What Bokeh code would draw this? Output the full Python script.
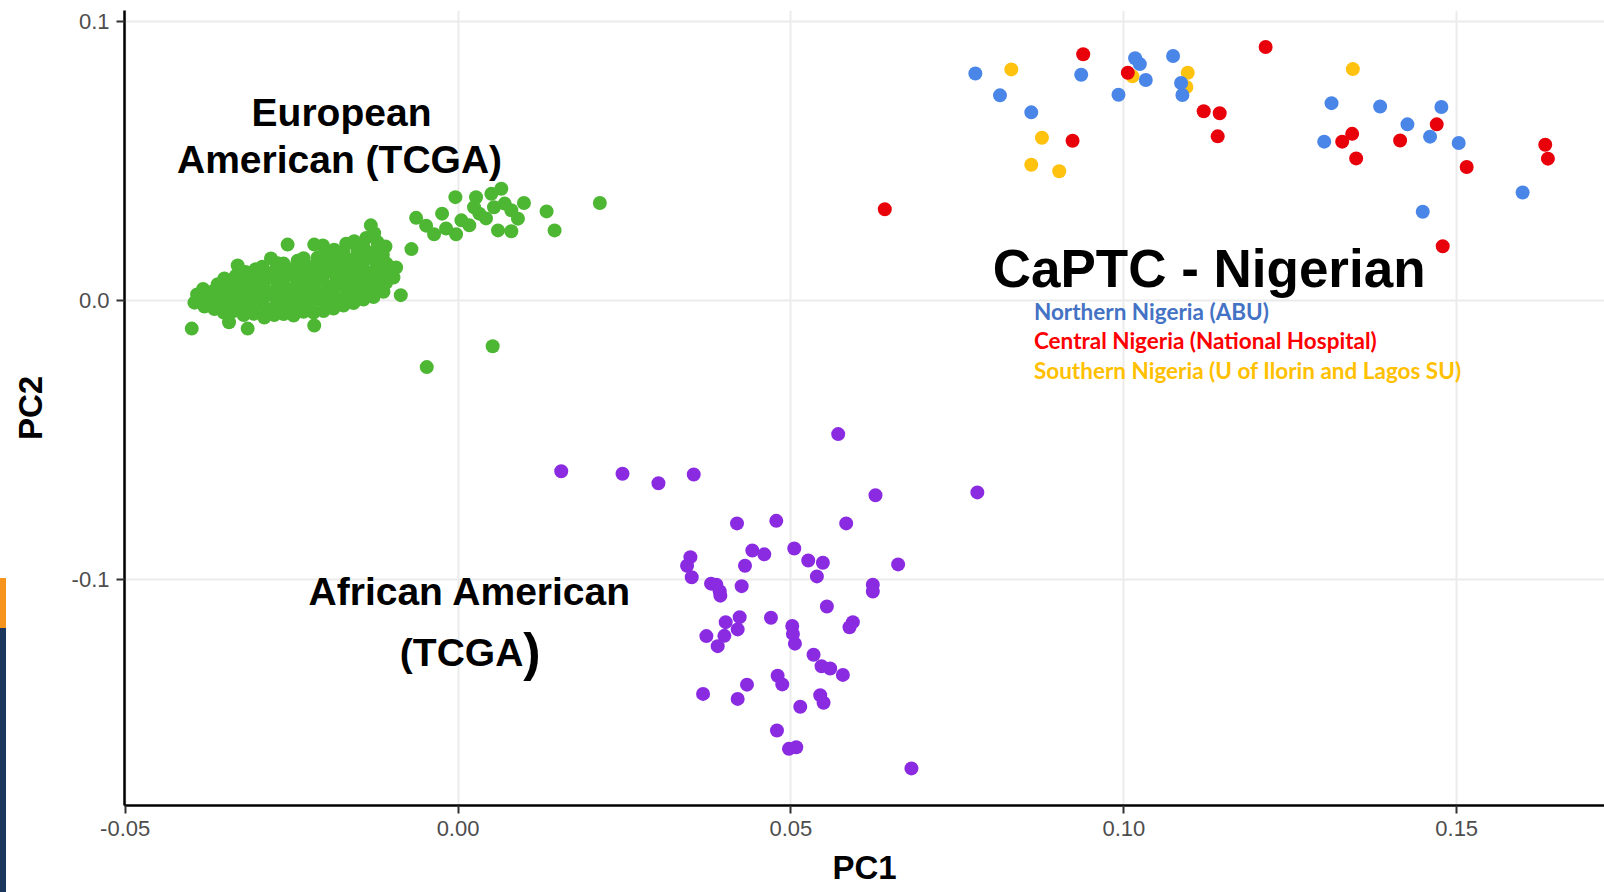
from bokeh.plotting import figure
from bokeh.models import Label, FixedTicker, Div, Range1d
from bokeh.layouts import row
from bokeh.embed import file_html
from bokeh.resources import INLINE

# ---------------- data ----------------
x_ticks = [-0.05, 0.0, 0.05, 0.10, 0.15]
x_tick_labels = ["-0.05", "0.00", "0.05", "0.10", "0.15"]
y_ticks = [-0.1, 0.0, 0.1]
y_tick_labels = ["-0.1", "0.0", "0.1"]

# European American (TCGA) - dense main body + sparse points
eur_x = [-0.0396, -0.0392, -0.0381, -0.0378, -0.0383, -0.0366, -0.0362, -0.0368, -0.0361,
         -0.0352, -0.0348, -0.0353, -0.0347, -0.0351, -0.0337, -0.0332, -0.0336, -0.0331, -0.0334,
         -0.0322, -0.0318, -0.0321, -0.0317, -0.0323, -0.0319, -0.0307, -0.0303, -0.0306, -0.0302,
         -0.0308, -0.0304, -0.0291, -0.0288, -0.0293, -0.0287, -0.0292, -0.0289, -0.0294,
         -0.0276, -0.0273, -0.0277, -0.0272, -0.0278, -0.0274, -0.0271, -0.0262, -0.0258, -0.0261,
         -0.0257, -0.0263, -0.0259, -0.0262, -0.0247, -0.0243, -0.0246, -0.0242, -0.0248, -0.0244,
         -0.0241, -0.0232, -0.0228, -0.0231, -0.0227, -0.0233, -0.0229, -0.0232, -0.0217, -0.0213,
         -0.0216, -0.0212, -0.0218, -0.0214, -0.0211, -0.0202, -0.0198, -0.0201, -0.0197, -0.0203,
         -0.0199, -0.0202, -0.0198, -0.0187, -0.0183, -0.0186, -0.0182, -0.0188, -0.0184, -0.0181,
         -0.0186, -0.0172, -0.0168, -0.0171, -0.0167, -0.0173, -0.0169, -0.0172, -0.0168, -0.0157,
         -0.0153, -0.0156, -0.0152, -0.0158, -0.0154, -0.0151, -0.0156, -0.0142, -0.0138, -0.0141,
         -0.0137, -0.0143, -0.0139, -0.0142, -0.0138, -0.0127, -0.0123, -0.0126, -0.0122, -0.0128,
         -0.0124, -0.0121, -0.0126, -0.0112, -0.0108, -0.0111, -0.0107, -0.0113, -0.0109, -0.0097,
         -0.0093, -0.0131, -0.0331, -0.0281,
         -0.0400, -0.0316, -0.0344, -0.0216, -0.0256, -0.0216, -0.0203, -0.0086, -0.0070,
         -0.0063, -0.0048, -0.0036, -0.0024, -0.0004, 0.0005, -0.0003, 0.0027, 0.0032, 0.0050,
         0.0065, 0.0070, 0.0080, 0.0099, 0.0090, 0.0060, 0.0080, 0.0017, 0.0024, 0.0054,
         -0.0018, 0.0042, 0.0213, 0.0133, 0.0145, 0.0052, -0.0047]
eur_y = [-0.0008, 0.0021, -0.0022, 0.0009, 0.0041, -0.0031, 0.0002, 0.0033, 0.0058,
         -0.0043, -0.0012, 0.0019, 0.0051, 0.0079, -0.0038, -0.0009, 0.0023, 0.0054, 0.0088,
         -0.0052, -0.0021, 0.0011, 0.0042, 0.0071, 0.0102, -0.0048, -0.0017, 0.0014, 0.0049,
         0.0081, 0.0112, -0.0061, -0.0029, 0.0003, 0.0032, 0.0063, 0.0094, 0.0121,
         -0.0052, -0.0018, 0.0017, 0.0049, 0.0082, 0.0111, 0.0133, -0.0049, -0.0021, 0.0012,
         0.0043, 0.0072, 0.0103, 0.0132, -0.0054, -0.0012, 0.0021, 0.0053, 0.0088, 0.0119,
         0.0142, -0.0041, -0.0008, 0.0027, 0.0061, 0.0092, 0.0121, 0.0151, -0.0043, 0.0001,
         0.0033, 0.0068, 0.0099, 0.0128, 0.0153, -0.0038, -0.0007, 0.0022, 0.0052, 0.0083,
         0.0112, 0.0141, 0.0163, -0.0029, 0.0008, 0.0041, 0.0072, 0.0101, 0.0132, 0.0161,
         0.0182, -0.0018, 0.0013, 0.0049, 0.0081, 0.0112, 0.0141, 0.0172, 0.0203, -0.0009,
         0.0022, 0.0053, 0.0091, 0.0121, 0.0152, 0.0181, 0.0212, 0.0003, 0.0038, 0.0072,
         0.0101, 0.0132, 0.0163, 0.0192, 0.0224, 0.0012, 0.0048, 0.0081, 0.0118, 0.0149,
         0.0178, 0.0209, 0.0241, 0.0031, 0.0063, 0.0098, 0.0131, 0.0162, 0.0193, 0.0082,
         0.0118, 0.0269, 0.0125, 0.0150,
         -0.0101, -0.0101, -0.0078, -0.0090, 0.0200, 0.0200, 0.0197, 0.0019, 0.0184,
         0.0296, 0.0268, 0.0237, 0.0311, 0.0370, 0.0287, 0.0237, 0.0370, 0.0311, 0.0382,
         0.0400, 0.0347, 0.0323, 0.0349, 0.0293, 0.0251, 0.0248, 0.0269, 0.0334, 0.0334,
         0.0258, 0.0294, 0.0349, 0.0319, 0.0251, -0.0164, -0.0239]

# African American (TCGA)
afr_x = [0.0155, 0.0247, 0.0301, 0.0354, 0.0571, 0.0780, 0.0627, 0.0419, 0.0478, 0.0583,
         0.0505, 0.0442, 0.0460, 0.0526, 0.0548, 0.0661, 0.0349, 0.0344, 0.0351, 0.0431,
         0.0539, 0.0380, 0.0388, 0.0393, 0.0394, 0.0426, 0.0623, 0.0623, 0.0554, 0.0423,
         0.0402, 0.0420, 0.0470, 0.0593, 0.0588, 0.0502, 0.0503, 0.0506, 0.0373, 0.0400,
         0.0390, 0.0534, 0.0546, 0.0559, 0.0578, 0.0480, 0.0487, 0.0434, 0.0368, 0.0420,
         0.0544, 0.0549, 0.0514, 0.0479, 0.0497, 0.0508, 0.0681]
afr_y = [-0.0612, -0.0621, -0.0655, -0.0624, -0.0479, -0.0688, -0.0698, -0.0799, -0.0790, -0.0799,
         -0.0889, -0.0896, -0.0910, -0.0932, -0.0940, -0.0946, -0.0920, -0.0951, -0.0992, -0.0951,
         -0.0989, -0.1015, -0.1019, -0.1042, -0.1058, -0.1024, -0.1019, -0.1043, -0.1097, -0.1135,
         -0.1153, -0.1179, -0.1137, -0.1153, -0.1171, -0.1167, -0.1195, -0.1230, -0.1203, -0.1202,
         -0.1239, -0.1270, -0.1311, -0.1319, -0.1342, -0.1345, -0.1376, -0.1377, -0.1410, -0.1428,
         -0.1415, -0.1442, -0.1456, -0.1541, -0.1607, -0.1601, -0.1677]

# CaPTC - Nigerian: Northern (ABU)
north_x = [0.0777, 0.0814, 0.0861, 0.0936, 0.0992, 0.1017, 0.1024, 0.1033, 0.1074, 0.1086,
           0.1088, 0.1312, 0.1385, 0.1477, 0.1426, 0.1301, 0.1460, 0.1503, 0.1599, 0.1449]
north_y = [0.0813, 0.0735, 0.0674, 0.0809, 0.0737, 0.0868, 0.0847, 0.0790, 0.0876, 0.0779,
           0.0736, 0.0707, 0.0695, 0.0693, 0.0631, 0.0569, 0.0587, 0.0564, 0.0387, 0.0318]

# Central (National Hospital)
central_x = [0.0939, 0.0923, 0.0641, 0.1006, 0.1120, 0.1144, 0.1141, 0.1213, 0.1470, 0.1328,
             0.1343, 0.1415, 0.1349, 0.1515, 0.1633, 0.1637, 0.1479]
central_y = [0.0882, 0.0572, 0.0327, 0.0816, 0.0678, 0.0671, 0.0588, 0.0908, 0.0631, 0.0569,
             0.0597, 0.0573, 0.0509, 0.0478, 0.0558, 0.0508, 0.0194]

# Southern (U of Ilorin and Lagos SU)
south_x = [0.0831, 0.0877, 0.0861, 0.0903, 0.1013, 0.1096, 0.1094, 0.1344]
south_y = [0.0828, 0.0583, 0.0486, 0.0463, 0.0803, 0.0816, 0.0765, 0.0829]

# ---------------- figure ----------------
p = figure(width=1598, height=892,
           x_range=Range1d(-0.0501, 0.1722), y_range=Range1d(-0.1810, 0.1039),
           output_backend="svg", toolbar_location=None,
           min_border_left=118, min_border_right=0, min_border_top=10, min_border_bottom=87)
p.outline_line_color = None
p.background_fill_color = "white"
p.border_fill_color = "white"

for ax, ticks, labs in ((p.xaxis[0], x_ticks, x_tick_labels), (p.yaxis[0], y_ticks, y_tick_labels)):
    ax.ticker = FixedTicker(ticks=ticks)
    ax.major_label_overrides = dict(zip(ticks, labs))
    ax.axis_line_color = "black"
    ax.axis_line_width = 2.5
    ax.major_tick_line_color = "#333333"
    ax.major_tick_line_width = 2
    ax.major_tick_out = 8
    ax.major_tick_in = 0
    ax.minor_tick_out = 0
    ax.minor_tick_in = 0
    ax.major_label_text_font = "Liberation Sans"
    ax.major_label_text_font_size = "22px"
    ax.major_label_text_color = "#4d4d4d"
    ax.major_label_standoff = 7
    ax.axis_label_text_font = "Liberation Sans"
    ax.axis_label_text_font_style = "bold"
    ax.axis_label_text_font_size = "33px"
    ax.axis_label_text_color = "black"

p.xaxis.axis_label = "PC1"
p.yaxis.axis_label = "PC2"
p.xaxis.axis_label_standoff = 10
p.yaxis.axis_label_standoff = 20

p.xgrid.ticker = FixedTicker(ticks=x_ticks)
p.ygrid.ticker = FixedTicker(ticks=y_ticks)
p.grid.grid_line_color = "#ebebeb"
p.grid.grid_line_width = 2

dot = 14
p.scatter(eur_x, eur_y, size=dot, fill_color="#4db733", line_color=None)
p.scatter(afr_x, afr_y, size=dot, fill_color="#8a2be2", line_color=None)
p.scatter(south_x, south_y, size=dot, fill_color="#ffc20e", line_color=None)
p.scatter(north_x, north_y, size=dot, fill_color="#4a86e8", line_color=None)
p.scatter(central_x, central_y, size=dot, fill_color="#e8000b", line_color=None)

big = dict(text_font="Liberation Sans", text_font_style="bold", text_color="black",
           text_baseline="alphabetic")
p.add_layout(Label(x=-0.0175, y=0.0672, text="European", text_align="center",
                   text_font_size="39px", **big))
p.add_layout(Label(x=-0.0178, y=0.0505, text="American (TCGA)", text_align="center",
                   text_font_size="39px", **big))
p.add_layout(Label(x=0.0018, y=-0.1043, text="African American", text_align="center",
                   text_font_size="39px", **big))
p.add_layout(Label(x=0.0098, y=-0.1260, text="(TCGA", text_align="right",
                   text_font_size="39px", **big))
p.add_layout(Label(x=0.0098, y=-0.1260, text=")", text_align="left",
                   text_font_size="52px", **big))
p.add_layout(Label(x=0.0803, y=0.0116, text="CaPTC - Nigerian", text_align="left",
                   text_font_size="53px", **big))

leg = dict(text_font="Lato", text_font_style="bold", text_align="left",
           text_baseline="alphabetic", text_font_size="22.5px")
p.add_layout(Label(x=0.0865, y=-0.0040, text="Northern Nigeria (ABU)", text_color="#4472c4", **leg))
p.add_layout(Label(x=0.0865, y=-0.0144, text="Central Nigeria (National Hospital)", text_color="#ff0000", **leg))
p.add_layout(Label(x=0.0865, y=-0.0252, text="Southern Nigeria (U of Ilorin and Lagos SU)", text_color="#ffc000", **leg))

strip = Div(text="", width=6, height=892, margin=0,
            styles={"background": "linear-gradient(to bottom, #ffffff 0px, #ffffff 578px, "
                                  "#f7941d 578px, #f7941d 628px, #1b365d 628px, #1b365d 892px)"})

layout = row(strip, p, spacing=0)
open("out.html", "w").write(file_html(layout, INLINE))
